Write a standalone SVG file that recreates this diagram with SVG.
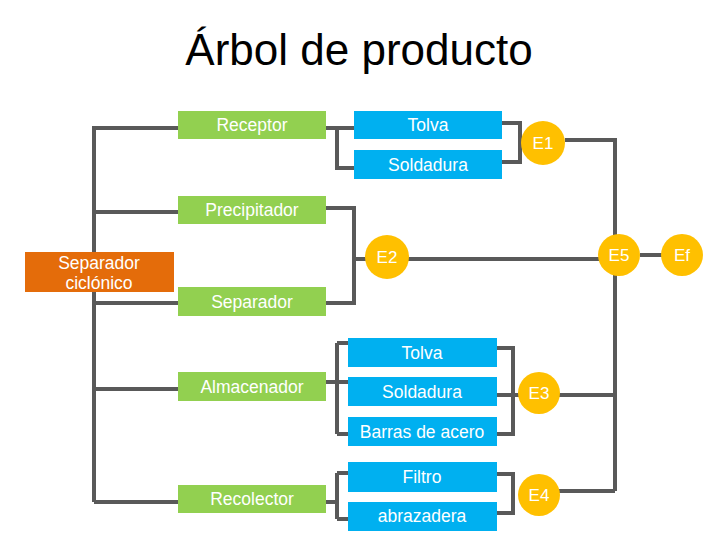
<svg xmlns="http://www.w3.org/2000/svg" width="720" height="540" viewBox="0 0 720 540">
<style>
.g{fill:#92D050}
.b{fill:#00B0F0}
.o{fill:#E46C0A}
.y{fill:#FFC000}
.t{font-family:"Liberation Sans",Arial,sans-serif;font-size:17.5px;fill:#FFFFFF;text-anchor:middle}
.e{font-family:"Liberation Sans",Arial,sans-serif;font-size:17px;fill:#FFFFFF;text-anchor:middle}
.c{fill:none;stroke:#595959;stroke-width:4;stroke-linejoin:miter;stroke-linecap:butt}
</style>
<rect width="720" height="540" fill="#FFFFFF"/>
<text x="359" y="65" font-family="'Liberation Sans',Arial,sans-serif" font-size="44" fill="#000000" text-anchor="middle">Árbol de producto</text>
<g id="connectors">
<path class="c" d="M94 126 V502 M94 128 H178 M94 212 H178 M94 303 H178 M94 389 H178 M94 502 H178"/>
<path class="c" d="M326 128 H354 M337 128 V168 H354"/>
<path class="c" d="M502 123 H520 V162 H502"/>
<path class="c" d="M565 140 H615 V491"/>
<path class="c" d="M326 208 H354 V303 H326 M354 259 H370 M405 259 H600"/>
<path class="c" d="M640 255 H662"/>
<path class="c" d="M326 382 H337 M337 343 V434 M337 343 H348 M337 382 H348 M337 434 H348"/>
<path class="c" d="M497 348 H513 V434 H497 M497 395 H520 M558 395 H615"/>
<path class="c" d="M326 502 H337 M337 473 V519 M337 473 H348 M337 519 H348"/>
<path class="c" d="M497 474 H513 V513 H497 M558 491 H615"/>
</g>
<g id="separador-ciclonico"><rect class="o" x="25" y="252" width="149" height="40"/><text class="t" x="99" y="269">Separador</text><text class="t" x="99" y="289">ciclónico</text></g>
<g id="receptor"><rect class="g" x="178" y="111" width="148" height="28"/><text class="t" x="252" y="131">Receptor</text></g>
<g id="precipitador"><rect class="g" x="178" y="196" width="148" height="28"/><text class="t" x="252" y="216">Precipitador</text></g>
<g id="separador"><rect class="g" x="178" y="287" width="148" height="29"/><text class="t" x="252" y="308">Separador</text></g>
<g id="almacenador"><rect class="g" x="178" y="372" width="148" height="29"/><text class="t" x="252" y="393">Almacenador</text></g>
<g id="recolector"><rect class="g" x="178" y="485" width="148" height="28"/><text class="t" x="252" y="505">Recolector</text></g>
<g id="tolva1"><rect class="b" x="354" y="111" width="148" height="28"/><text class="t" x="428" y="131">Tolva</text></g>
<g id="soldadura1"><rect class="b" x="354" y="150" width="148" height="29"/><text class="t" x="428" y="171">Soldadura</text></g>
<g id="tolva2"><rect class="b" x="348" y="338" width="149" height="29"/><text class="t" x="422" y="359">Tolva</text></g>
<g id="soldadura2"><rect class="b" x="348" y="377" width="149" height="29"/><text class="t" x="422" y="398">Soldadura</text></g>
<g id="barras"><rect class="b" x="348" y="417" width="149" height="29"/><text class="t" x="422" y="438">Barras de acero</text></g>
<g id="filtro"><rect class="b" x="348" y="462" width="149" height="30"/><text class="t" x="422" y="483">Filtro</text></g>
<g id="abrazadera"><rect class="b" x="348" y="502" width="149" height="29"/><text class="t" x="422" y="522">abrazadera</text></g>
<g id="E1"><circle class="y" cx="543" cy="143" r="22"/><text class="e" x="543" y="149">E1</text></g>
<g id="E2"><circle class="y" cx="387" cy="257" r="22"/><text class="e" x="387" y="263">E2</text></g>
<g id="E3"><circle class="y" cx="539" cy="393" r="21"/><text class="e" x="539" y="399">E3</text></g>
<g id="E4"><circle class="y" cx="539" cy="495" r="21"/><text class="e" x="539" y="501">E4</text></g>
<g id="E5"><circle class="y" cx="619" cy="255" r="21"/><text class="e" x="619" y="261">E5</text></g>
<g id="Ef"><circle class="y" cx="682" cy="255" r="21"/><text class="e" x="682" y="261">Ef</text></g>
</svg>
